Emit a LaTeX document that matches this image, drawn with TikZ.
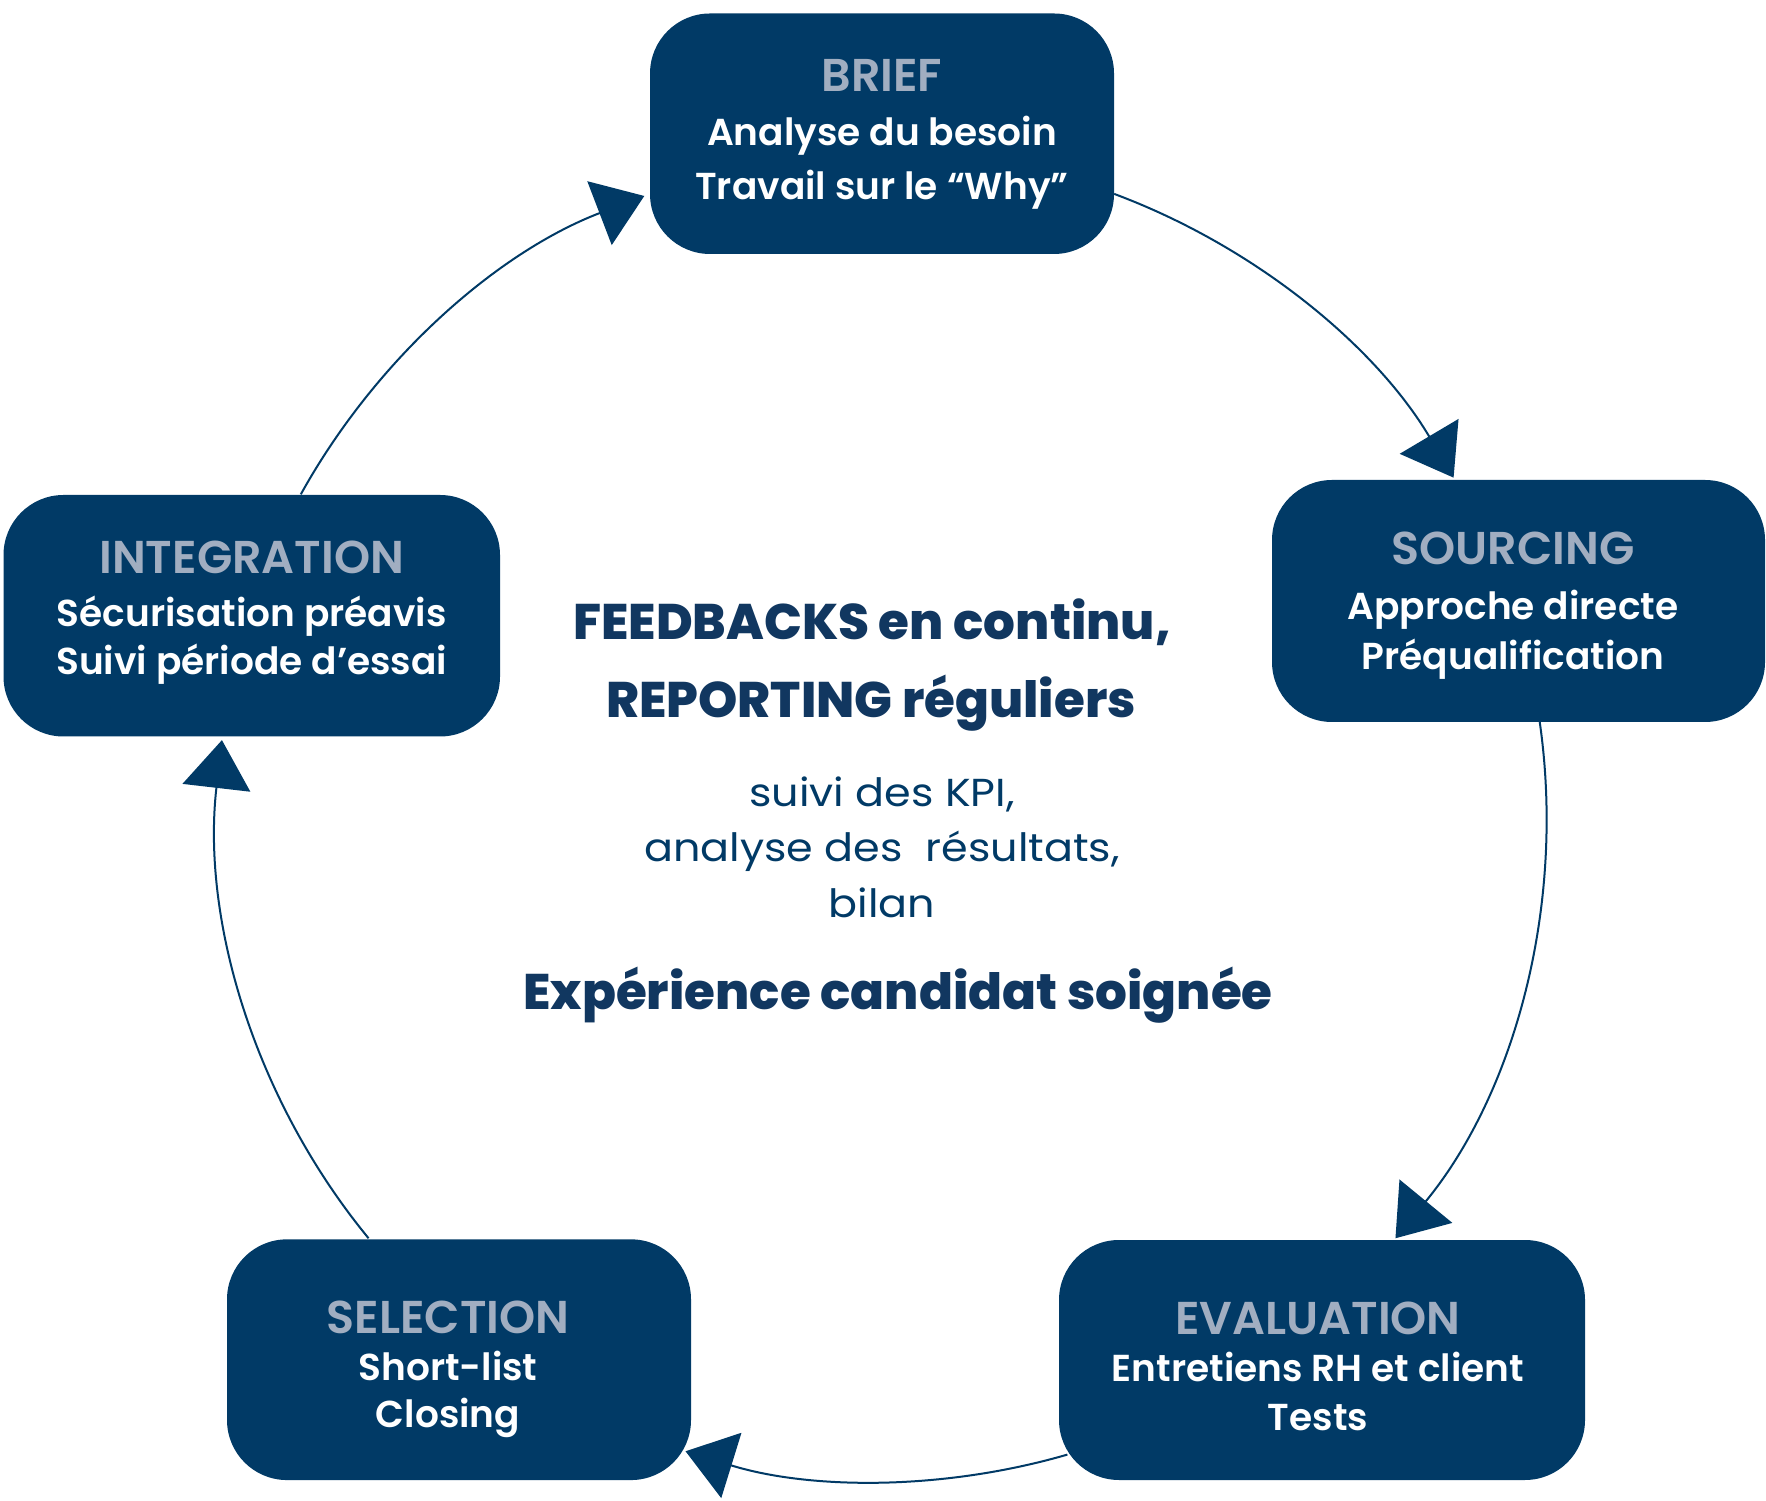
\documentclass[tikz,border=0pt]{standalone}
\usepackage{fontspec}
\usetikzlibrary{arrows.meta,calc}
\setmainfont{Poppins}
\newfontfamily\fpop{Poppins}
\IfFontExistsTF{Poppins SemiBold}{\newfontfamily\fsemi{Poppins SemiBold}}{\newcommand\fsemi{\fpop\bfseries}}
\IfFontExistsTF{Poppins ExtraBold}{\newfontfamily\fheavy{Poppins ExtraBold}}{\newcommand\fheavy{\fpop\bfseries}}
\newfontfamily\flight{Poppins}[FakeStretch=1.1]
\definecolor{boxblue}{RGB}{1,58,102}
\definecolor{titlegrey}{RGB}{161,174,193}
\definecolor{navy}{RGB}{17,55,96}
\begin{document}
\begin{tikzpicture}[x=1pt,y=1pt,
  box/.style={draw=none, fill=boxblue, rounded corners=60pt, inner sep=0pt},
  ttl/.style={anchor=base, text=titlegrey, inner sep=0pt, font=\fsemi\fontsize{46}{54}\selectfont},
  ln/.style={anchor=base, text=white, inner sep=0pt, font=\fsemi\fontsize{37.5}{45}\selectfont},
  big/.style={anchor=base, text=navy, inner sep=0pt, font=\fheavy\fontsize{50}{60}\selectfont},
  lite/.style={anchor=base, text=boxblue, inner sep=0pt, font=\flight\fontsize{39}{47}\selectfont},
  flow/.style={draw=boxblue, line width=2pt, -{Triangle[length=48pt,width=68pt]}}]
\useasboundingbox (0,0) rectangle (1766,1500);

% boxes
\node[box, minimum width=464pt, minimum height=240.5pt] (brief) at (882,1366.25) {};
\node[box, minimum width=493pt, minimum height=242pt] (sourcing) at (1518.5,899) {};
\node[box, minimum width=526pt, minimum height=240pt] (evaluation) at (1322,140) {};
\node[box, minimum width=464pt, minimum height=240.7pt] (selection) at (459,140.3) {};
\node[box, minimum width=496.5pt, minimum height=241.5pt] (integration) at (251.75,884.25) {};

% box texts
\node[ttl] (briefT) at (882,1408.3) {BRIEF};
\node[ln] (briefA) at (882,1354) {Analyse du besoin};
\node[ln] (briefB) at (882,1300.7) {Travail sur le “Why”};

\node[ttl] (sourcingT) at (1513,935) {SOURCING};
\node[ln] (sourcingA) at (1513,880) {Approche directe};
\node[ln] (sourcingB) at (1513,830) {Préqualification};

\node[ttl] (evaluationT) at (1318,166) {EVALUATION};
\node[ln] (evaluationA) at (1318,118.3) {Entretiens RH et client};
\node[ln] (evaluationB) at (1318,70) {Tests};

\node[ttl] (selectionT) at (448,166.7) {SELECTION};
\node[ln] (selectionA) at (448,120) {Short-list};
\node[ln] (selectionB) at (448,73) {Closing};

\node[ttl] (integrationT) at (251.7,926.7) {INTEGRATION};
\node[ln] (integrationA) at (251.7,873.3) {Sécurisation préavis};
\node[ln] (integrationB) at (251.7,825.7) {Suivi période d’essai};

% centre texts
\node[big] (feed) at (872,860.7) {FEEDBACKS en continu,};
\node[big] (report) at (871,782.7) {REPORTING réguliers};
\node[lite] (kpi) at (882,693) {suivi des KPI,};
\node[lite] (analyse) at (882,638) {analyse des~ résultats,};
\node[lite] (bilan) at (882,582) {bilan};
\node[big] (exp) at (898,490.7) {Expérience candidat soignée};

% cycle arrows (arcs of one circle)
\coordinate (C) at (882,683.5);
\coordinate (s1) at ($(C)+(69.55:664.5)$);
\coordinate (s2) at ($(C)+(8.18:664.5)$);
\coordinate (s3) at ($(C)+(-73.8:664.5)$);
\coordinate (s4) at ($(C)+(219.4:664.5)$);
\coordinate (s5) at ($(C)+(151:664.5)$);
\draw[flow] (s1) arc[start angle=69.55, end angle=30.66, radius=664.5pt];
\draw[flow] (s2) arc[start angle=8.18, end angle=-39.4, radius=664.5pt];
\draw[flow] (s3) arc[start angle=-73.8, end angle=-107.2, radius=664.5pt];
\draw[flow] (s4) arc[start angle=219.4, end angle=173.4, radius=664.5pt];
\draw[flow] (s5) arc[start angle=151, end angle=110.96, radius=664.5pt];
\end{tikzpicture}
\end{document}
